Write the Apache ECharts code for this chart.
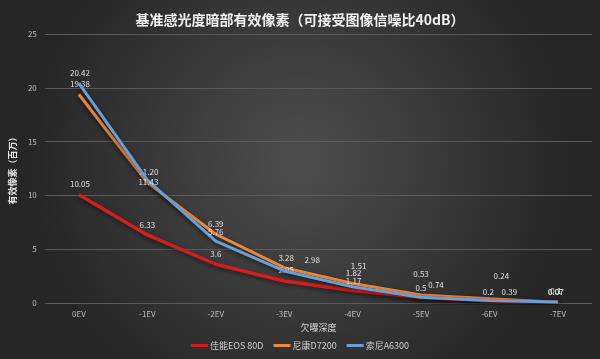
<!DOCTYPE html>
<html><head><meta charset="utf-8">
<script src="https://cdn.jsdelivr.net/npm/echarts@6/dist/echarts.min.js"></script>
<style>html,body{margin:0;padding:0;background:#333;}#c{width:600px;height:359px;}</style>
</head><body><div id="c"></div>
<script>
const categories = ['0EV','-1EV','-2EV','-3EV','-4EV','-5EV','-6EV','-7EV'];
const canon = [10.05, 6.33, 3.6, 2.05, 1.17, 0.5, 0.2, 0.07];
const nikon = [19.38, 11.20, 6.39, 3.28, 1.82, 0.74, 0.39, 0.07];
const sony = [20.42, 11.43, 5.76, 2.98, 1.51, 0.53, 0.24, 0.1];
const nikonLabels = ['19.38', '11.20', '6.39', '3.28', '1.82', '0.74', '0.39', '0.07'];
const yTicks = [0, 5, 10, 15, 20, 25];
const seriesNames = ['佳能EOS 80D', '尼康D7200', '索尼A6300'];

const font = 'Microsoft YaHei, "Noto Sans CJK SC", sans-serif';
function pts(arr){ return arr.map((v,i)=>[i,v]); }
const chart = echarts.init(document.getElementById('c'));
const canonOff = [[1,-2],[0,-1],[0,-2],[2,-2],[1,-1],[0,-1],[-1,0],[-2,-2]];
const nikonOff = [[1,-2],[1,-2],[0,-2],[2,-1],[1,-2],[15,-2],[20,2],[-2,-2]];
const sonyOff = [[1,-2],[1,10],[0,-1],[28,-2],[6,-12],[0,-15],[12,-16],[-2,-2]];
const lbl = (texts) => ({show:true, position:'top', color:'#e0e0e0', fontSize:8, fontFamily:font, distance:4,
  formatter: texts ? (p)=>texts[p.dataIndex] : (p)=>String(p.value[1])});
const layout = (offs) => (p)=>({dx:offs[p.dataIndex][0], dy:offs[p.dataIndex][1], hideOverlap:false});
const common = {type:'line',symbol:'circle',symbolSize:1,showSymbol:true};
chart.setOption({
  animation:false,
  backgroundColor:{type:'radial',x:0.5,y:0.45,r:0.75,colorStops:[{offset:0,color:'#4e4e4e'},{offset:1,color:'#262626'}]},
  title:{text:'基准感光度暗部有效像素（可接受图像信噪比40dB）',left:'center',top:8,
    textStyle:{color:'#f2f2f2',fontSize:14,fontWeight:'bold',fontFamily:font}},
  grid:{left:35,right:8,top:34,bottom:56},
  legend:{bottom:4,left:'center',itemWidth:17,itemHeight:3,itemGap:10,icon:'rect',
    textStyle:{color:'#d0d0d0',fontSize:9,fontFamily:font,padding:[0,0,0,-3]}, data:seriesNames},
  xAxis:{type:'value',min:-0.5,max:7.5,interval:0.5,
    name:'欠曝深度',nameLocation:'middle',nameGap:20,nameTextStyle:{color:'#d9d9d9',fontSize:9,fontFamily:font},
    axisLine:{show:false},axisTick:{show:false},splitLine:{show:false},
    axisLabel:{color:'#bfbfbf',fontSize:8,margin:7,fontFamily:font,showMinLabel:false,showMaxLabel:false,
      formatter:(v)=>{const i=Math.round(v); return Math.abs(v-i)<1e-6 && i>=0 && i<categories.length ? categories[i] : '';}}},
  yAxis:{type:'value',min:0,max:25,interval:5,
    name:'有效像素（百万）',nameLocation:'middle',nameGap:20,nameRotate:90,
    nameTextStyle:{color:'#e6e6e6',fontSize:9,fontWeight:'bold',fontFamily:font},
    axisLine:{show:false},axisTick:{show:false},
    axisLabel:{color:'#bfbfbf',fontSize:8,margin:8,fontFamily:font,formatter:(v)=>yTicks.includes(v)?String(v):''},
    splitLine:{lineStyle:{color:'#5a5a5a',width:1}}},
  series:[
    Object.assign({}, common, {name:seriesNames[0],data:pts(canon),labelLayout:layout(canonOff),
      lineStyle:{color:'#d41e1e',width:3.5,shadowColor:'rgba(0,0,0,0.5)',shadowBlur:4,shadowOffsetY:2},
      itemStyle:{color:'#d41e1e'},label:lbl(null),z:3}),
    Object.assign({}, common, {name:seriesNames[1],data:pts(nikon),labelLayout:layout(nikonOff),
      lineStyle:{color:'#ec8a3c',width:3,shadowColor:'rgba(0,0,0,0.5)',shadowBlur:4,shadowOffsetY:2},
      itemStyle:{color:'#ec8a3c'},label:lbl(nikonLabels),z:2}),
    Object.assign({}, common, {name:seriesNames[2],data:pts(sony),labelLayout:layout(sonyOff),
      lineStyle:{color:'#6a9fd6',width:3,shadowColor:'rgba(0,0,0,0.5)',shadowBlur:4,shadowOffsetY:2},
      itemStyle:{color:'#6a9fd6'},label:lbl(null),z:4})
  ]
});
</script></body></html>
